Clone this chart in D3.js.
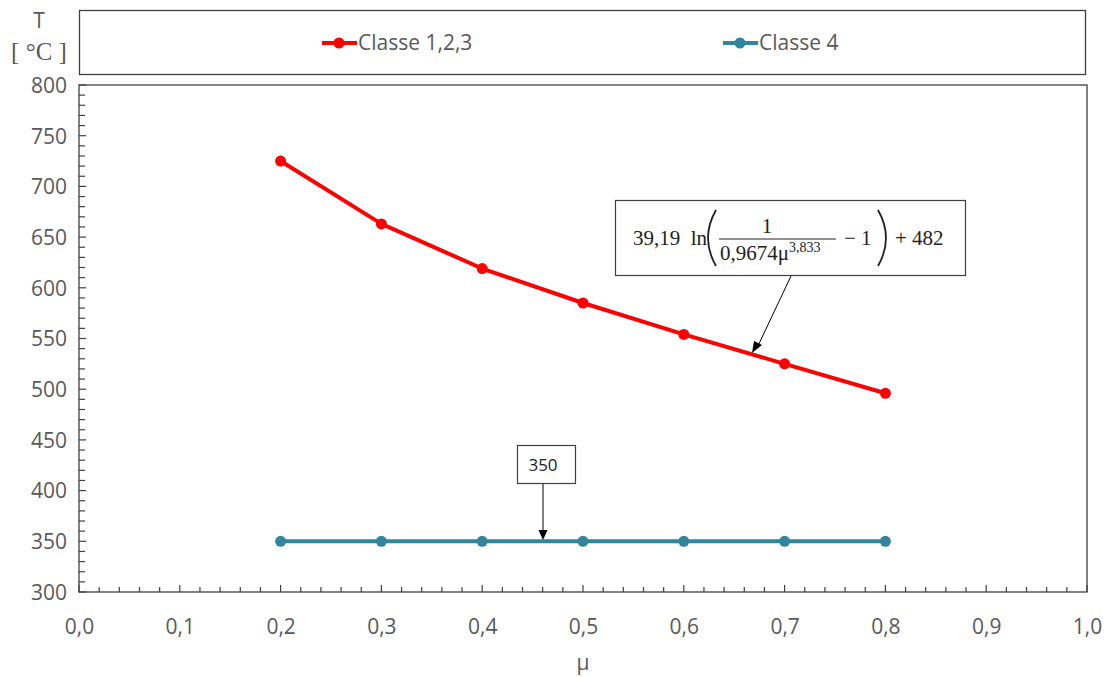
<!DOCTYPE html>
<html>
<head>
<meta charset="utf-8">
<script src="https://cdn.jsdelivr.net/npm/d3@7"></script>
<style>
body{margin:0;background:#fff;}
svg{display:block;}
</style>
</head>
<body>
<svg id="c" width="1107" height="677"></svg>
<script>
const muValues = [0.2, 0.3, 0.4, 0.5, 0.6, 0.7, 0.8];
const classe123 = [725, 663, 619, 585, 554, 525, 496];
const classe4 = [350, 350, 350, 350, 350, 350, 350];
const seriesNames = ["Classe 1,2,3", "Classe 4"];
const seriesColors = ["#FF0000", "#31859C"];
const xTicks = [0, 0.1, 0.2, 0.3, 0.4, 0.5, 0.6, 0.7, 0.8, 0.9, 1.0];
const yTicks = [300, 350, 400, 450, 500, 550, 600, 650, 700, 750, 800];

const svg = d3.select("#c");
const L = 79, R = 1087, T = 85, B = 592;
const x = d3.scaleLinear().domain([0, 1]).range([L, R]);
const y = d3.scaleLinear().domain([300, 800]).range([B, T]);
const gray = "#595959";
const font = "'Open Sans', sans-serif";

// legend box
svg.append("rect").attr("x", 79.5).attr("y", 10.5).attr("width", 1006).attr("height", 64)
  .attr("fill", "none").attr("stroke", "#404040").attr("stroke-width", 1.3);

// plot frame
svg.append("rect").attr("x", L).attr("y", T).attr("width", R - L).attr("height", B - T)
  .attr("fill", "none").attr("stroke", "#404040").attr("stroke-width", 1.3);

// x axis minor ticks (inside, upward)
const xMinor = d3.range(0, 51).map(i => i / 50);
svg.append("g").selectAll("line").data(xMinor).join("line")
  .attr("x1", d => x(d)).attr("x2", d => x(d))
  .attr("y1", B).attr("y2", (d, i) => B - (i % 5 === 0 ? 7 : 5))
  .attr("stroke", "#404040").attr("stroke-width", 1.2);
// y axis minor ticks (inside, rightward)
const yMinor = d3.range(300, 801, 10);
svg.append("g").selectAll("line").data(yMinor).join("line")
  .attr("x1", L).attr("x2", (d) => L + (d % 50 === 0 ? 7 : 6))
  .attr("y1", d => y(d)).attr("y2", d => y(d))
  .attr("stroke", "#404040").attr("stroke-width", 1.2);

// axes via d3 (labels only)
const xAxis = d3.axisBottom(x).tickValues(xTicks).tickSize(0).tickPadding(0)
  .tickFormat(d => d3.format(".1f")(d).replace(".", ","));
const gx = svg.append("g").attr("transform", `translate(0,${B})`).call(xAxis);
gx.select(".domain").remove();
gx.selectAll("text").attr("dy", null).attr("y", 42).attr("font-family", font)
  .attr("font-size", 21).attr("fill", gray);

const yAxis = d3.axisLeft(y).tickValues(yTicks).tickSize(0).tickPadding(0);
const gy = svg.append("g").attr("transform", `translate(${L},0)`).call(yAxis);
gy.select(".domain").remove();
gy.selectAll("text").attr("x", -12).attr("dy", "0.35em").attr("font-family", font)
  .attr("font-size", 21).attr("fill", gray);

// axis titles
svg.append("text").attr("x", 39).attr("y", 28).attr("text-anchor", "middle")
  .attr("font-family", font).attr("font-size", 21).attr("fill", gray).text("T");
svg.append("text").attr("x", 39).attr("y", 60).attr("text-anchor", "middle")
  .attr("font-family", "'Liberation Serif', serif").attr("font-size", 25).attr("fill", gray).text("[ \u00b0C ]");
svg.append("text").attr("x", x(0.5)).attr("y", 670).attr("text-anchor", "middle")
  .attr("font-family", font).attr("font-size", 21).attr("fill", gray).text("\u03bc");

// series
const series = [classe123, classe4];
const line = d3.line().x((d, i) => x(muValues[i])).y(d => y(d));
series.forEach((vals, si) => {
  svg.append("path").datum(vals).attr("d", line).attr("fill", "none")
    .attr("stroke", seriesColors[si]).attr("stroke-width", 4).attr("stroke-linejoin", "round");
  svg.append("g").selectAll("circle").data(vals).join("circle")
    .attr("cx", (d, i) => x(muValues[i])).attr("cy", d => y(d)).attr("r", 5.5)
    .attr("fill", seriesColors[si]);
});

// legend entries
const legX = [322, 723];
seriesNames.forEach((n, i) => {
  const g = svg.append("g");
  g.append("line").attr("x1", legX[i]).attr("x2", legX[i] + 35).attr("y1", 43).attr("y2", 43)
    .attr("stroke", seriesColors[i]).attr("stroke-width", 4);
  g.append("circle").attr("cx", legX[i] + 17).attr("cy", 43).attr("r", 5.5).attr("fill", seriesColors[i]);
  g.append("text").attr("x", legX[i] + 36).attr("y", 43).attr("dy", "0.35em")
    .attr("font-family", font).attr("font-size", 21).attr("fill", gray).text(n);
});

// annotation: formula
svg.append("line").attr("x1", 791).attr("y1", 276).attr("x2", 757).attr("y2", 348)
  .attr("stroke", "#000").attr("stroke-width", 1);
svg.append("path").attr("d", "M752,353 L754,341 L762,345 Z").attr("fill", "#000");
svg.append("rect").attr("x", 615.5).attr("y", 200.5).attr("width", 350).attr("height", 75)
  .attr("fill", "#fff").attr("stroke", "#404040").attr("stroke-width", 1.2);
const fg = svg.append("g").attr("font-family", "'Liberation Serif', serif").attr("fill", "#222");
fg.append("text").attr("x", 633).attr("y", 245).attr("font-size", 21).text("39,19\u00a0\u00a0ln");
// tall thin parentheses
fg.append("path").attr("d", "M716,210 Q700,238 716,266").attr("fill", "none").attr("stroke", "#222").attr("stroke-width", 1.8);
fg.append("path").attr("d", "M878,210 Q894,238 878,266").attr("fill", "none").attr("stroke", "#222").attr("stroke-width", 1.8);
fg.append("text").attr("x", 767).attr("y", 233).attr("text-anchor", "middle").attr("font-size", 21).text("1");
fg.append("line").attr("x1", 719).attr("x2", 836).attr("y1", 239).attr("y2", 239)
  .attr("stroke", "#222").attr("stroke-width", 1);
const den = fg.append("text").attr("x", 720).attr("y", 260).attr("font-size", 21);
den.append("tspan").text("0,9674\u03bc");
den.append("tspan").attr("dy", -8).attr("font-size", 14).text("3,833");
fg.append("text").attr("x", 844).attr("y", 245).attr("font-size", 21).text("\u2212 1");
fg.append("text").attr("x", 895).attr("y", 245).attr("font-size", 21).text("+ 482");

// annotation: 350
svg.append("line").attr("x1", 543).attr("y1", 483).attr("x2", 543).attr("y2", 533)
  .attr("stroke", "#000").attr("stroke-width", 1);
svg.append("path").attr("d", "M543,540 L538.5,530 L547.5,530 Z").attr("fill", "#000");
svg.append("rect").attr("x", 517.5).attr("y", 445.5).attr("width", 58).attr("height", 38)
  .attr("fill", "#fff").attr("stroke", "#404040").attr("stroke-width", 1.2);
svg.append("text").attr("x", 543).attr("y", 465).attr("dy", "0.35em").attr("text-anchor", "middle")
  .attr("font-family", font).attr("font-size", 17).attr("fill", "#222").text("350");
</script>
</body>
</html>
